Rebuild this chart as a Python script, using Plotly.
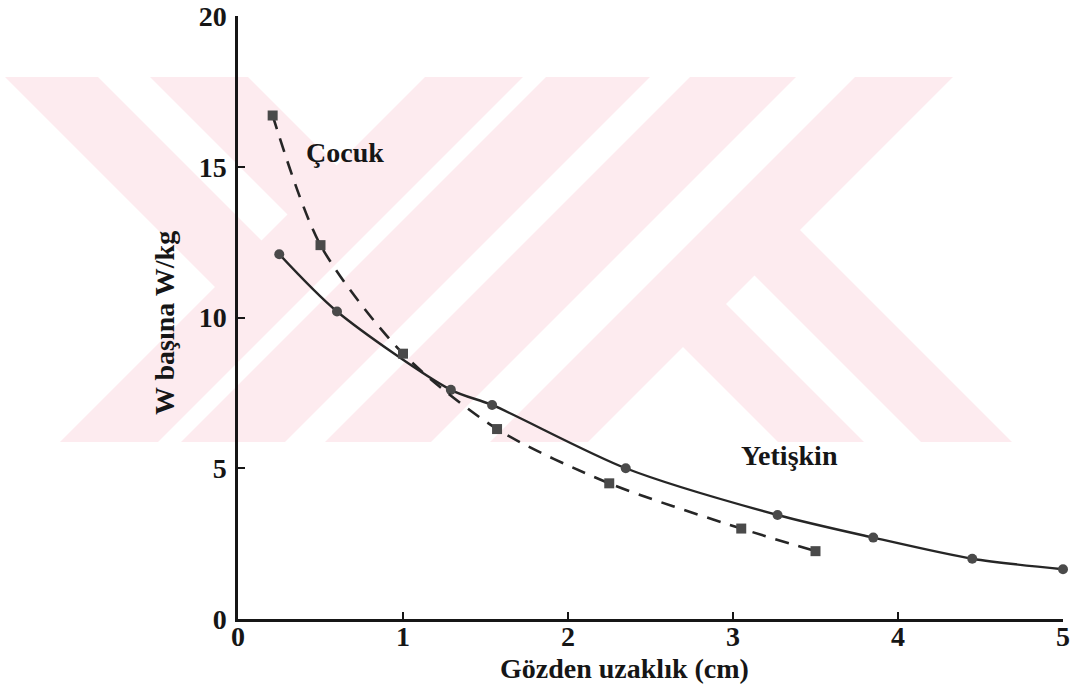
import plotly.graph_objects as go

# ---- data ----
cocuk_x = [0.21, 0.50, 1.00, 1.57, 2.25, 3.05, 3.50]
cocuk_y = [16.7, 12.4, 8.8, 6.3, 4.5, 3.0, 2.25]

yetiskin_x = [0.25, 0.60, 1.29, 1.54, 2.35, 3.27, 3.85, 4.45, 5.00]
yetiskin_y = [12.1, 10.2, 7.6, 7.1, 5.0, 3.45, 2.7, 2.0, 1.65]

x_ticks = [0, 1, 2, 3, 4, 5]
y_ticks = [0, 5, 10, 15, 20]

x_title = "Gözden uzaklık (cm)"
y_title = "W başına W/kg"
label_cocuk = "Çocuk"
label_yetiskin = "Yetişkin"

# ---- layout geometry (page pixels; body margin removed) ----
FW, FH = 1074, 693
X0, X1 = 238, 1063      # page x of plot left / right
Y0, Y1 = 619, 16        # page y of plot bottom / top
L, R, T, B = X0, FW - X1, Y1, FH - Y0
PW, PH = X1 - X0, Y0 - Y1

def px(x):
    return (x - X0) / PW

def py(y):
    return (Y0 - y) / PH

def poly_path(poly):
    return "M " + " L ".join(f"{px(a):.5f},{py(b):.5f}" for a, b in poly) + " Z"

# watermark (decorative background): pink outline with white stripes
wm_pink = [[(5, 77), (953, 77), (800, 230), (1012, 442), (60, 442), (215, 287)]]
wm_white = [
    [(98, 77), (150, 77), (287.5, 214.5), (261.5, 240.5)],
    [(248, 77), (425, 77), (336.5, 165.5)],
    [(523, 77), (546, 77), (181, 442), (158, 442)],
    [(650, 77), (690, 77), (325, 442), (285, 442)],
    [(796, 77), (855, 77), (490, 442), (431, 442)],
    [(683, 347), (778, 442), (588, 442)],
    [(864, 442), (921, 442), (754.5, 275.5), (726, 304)],
]
shapes = []
for poly in wm_pink:
    shapes.append(dict(type="path", path=poly_path(poly), xref="paper", yref="paper",
                       fillcolor="#fdebef", line=dict(width=0), layer="below"))
for poly in wm_white:
    shapes.append(dict(type="path", path=poly_path(poly), xref="paper", yref="paper",
                       fillcolor="#ffffff", line=dict(width=0), layer="below"))

FONT = "Liberation Serif"
ink = "#161616"
FS = 28

fig = go.Figure()
fig.add_trace(go.Scatter(
    x=yetiskin_x, y=yetiskin_y, mode="lines+markers", name=label_yetiskin,
    line=dict(color="#262626", width=2.4, shape="spline", smoothing=0.8),
    marker=dict(symbol="circle", size=10, color="#4a4a4a"),
    cliponaxis=False,
))
fig.add_trace(go.Scatter(
    x=cocuk_x, y=cocuk_y, mode="lines+markers", name=label_cocuk,
    line=dict(color="#262626", width=2.6, dash="14px,10px", shape="spline", smoothing=0.8),
    marker=dict(symbol="square", size=10, color="#4a4a4a"),
    cliponaxis=False,
))

def ann(x, y, text, angle=0):
    return dict(x=px(x), y=py(y), xref="paper", yref="paper", text=f"<b>{text}</b>",
                xanchor="center", yanchor="middle", textangle=angle, showarrow=False,
                font=dict(size=FS, family=FONT, color=ink))

fig.update_layout(
    width=FW, height=FH,
    margin=dict(l=L, r=R, t=T, b=B, autoexpand=False),
    paper_bgcolor="white", plot_bgcolor="rgba(0,0,0,0)",
    showlegend=False,
    shapes=shapes,
    font=dict(family=FONT, color=ink),
    annotations=[
        ann(345, 153, label_cocuk),
        ann(789, 455, label_yetiskin),
        ann(624, 668, x_title),
        ann(164, 323, y_title, angle=-90),
    ],
)
fig.update_xaxes(
    range=[0, 5], tickvals=x_ticks, ticktext=[f"<b>{v}</b>" for v in x_ticks],
    showline=True, linecolor=ink, linewidth=2.5, showgrid=False, zeroline=False,
    ticks="inside", ticklen=7, tickwidth=2, tickcolor=ink, automargin=False,
    ticklabeloverflow="allow", ticklabelstandoff=-9,
    tickfont=dict(size=FS, family=FONT, color=ink),
)
fig.update_yaxes(
    range=[0, 20], tickvals=y_ticks, ticktext=[f"<b>{v}</b>" for v in y_ticks],
    showline=True, linecolor=ink, linewidth=2.5, showgrid=False, zeroline=False,
    ticks="inside", ticklen=7, tickwidth=2, tickcolor=ink, automargin=False,
    ticklabeloverflow="allow", ticklabelstandoff=3,
    tickfont=dict(size=FS, family=FONT, color=ink),
)

fig.write_html(
    "out.html",
    config={"displayModeBar": False},
    post_script="document.body.style.margin='0';document.body.style.overflow='hidden';",
)
